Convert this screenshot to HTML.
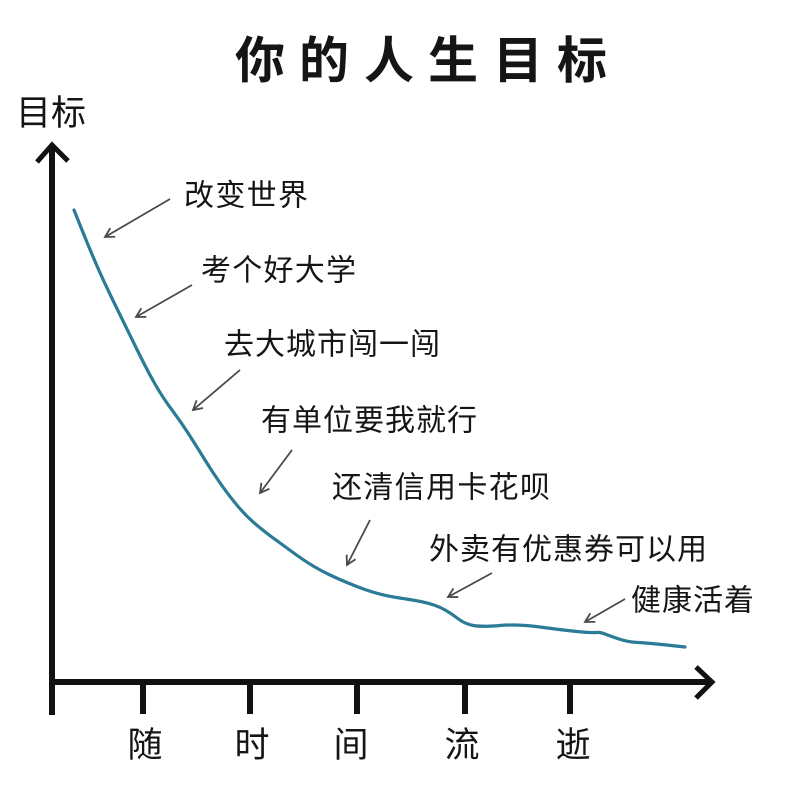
<!DOCTYPE html>
<html>
<head>
<meta charset="utf-8">
<style>
  html,body{margin:0;padding:0;background:#fff;}
  svg{display:block;}
  text{font-family:"Liberation Sans","Noto Sans CJK SC",sans-serif;fill:#151515;}
</style>
</head>
<body>
<svg width="795" height="785" viewBox="0 0 795 785" xmlns="http://www.w3.org/2000/svg">
  <defs>
    <marker id="ah" markerWidth="14" markerHeight="14" refX="10" refY="7" orient="auto" markerUnits="userSpaceOnUse">
      <path d="M1,2 L10,7 L1,12" fill="none" stroke="#4a4a4a" stroke-width="1.8"/>
    </marker>
  </defs>

  <!-- Title -->
  <g font-size="50" font-weight="bold" text-anchor="middle">
    <text x="260" y="78">你</text>
    <text x="324" y="78">的</text>
    <text x="389" y="78">人</text>
    <text x="453" y="78">生</text>
    <text x="518" y="78">目</text>
    <text x="582" y="78">标</text>
  </g>

  <!-- Y label -->
  <text x="16" y="125" font-size="35">目标</text>

  <!-- Axes -->
  <g stroke="#111" stroke-width="6" fill="none" stroke-linecap="butt">
    <line x1="52" y1="146" x2="52" y2="715"/>
    <line x1="49" y1="682" x2="709" y2="682"/>
    <polyline points="37,162 52,145 68,161" stroke-width="5" stroke-linejoin="miter"/>
    <polyline points="696,667 712,682 696,698" stroke-width="5" stroke-linejoin="miter"/>
    <line x1="143" y1="682" x2="143" y2="714"/>
    <line x1="250" y1="682" x2="250" y2="714"/>
    <line x1="357" y1="682" x2="357" y2="714"/>
    <line x1="465" y1="682" x2="465" y2="714"/>
    <line x1="570" y1="682" x2="570" y2="714"/>
  </g>

  <!-- X labels -->
  <g font-size="35" text-anchor="middle">
    <text x="145" y="757">随</text>
    <text x="252" y="757">时</text>
    <text x="351" y="757">间</text>
    <text x="462" y="757">流</text>
    <text x="573" y="757">逝</text>
  </g>

  <!-- Curve -->
  <path d="M74,210 L81,227.5 Q88,245 95.5,262.5 Q103,280 114,302.5 Q125,325 136,347.5 Q147,370 155,384 Q163,398 172,410 Q181,422 189,434.5 Q197,447 205,460 Q213,473 221.5,485 Q230,497 238.5,507 Q247,517 256,524.5 Q265,532 272.5,537.5 Q280,543 296.5,555 Q313,567 330,575 Q347,583 363.5,589 Q380,595 396.5,597.5 Q413,600 420.5,601.5 Q428,603 434,605 Q440,607 446,610.5 Q452,614 458.5,619 Q465,624 473.5,625.5 Q482,627 500,625.5 Q518,624 540,627 Q562,630 577,631.5 Q592,633 596,632.5 Q600,632 605,634 Q610,636 619,639 Q628,642 638,642.5 Q648,643 666.5,645 L685,647"
        fill="none" stroke="#2b7a96" stroke-width="3.2" stroke-linejoin="round" stroke-linecap="round"/>

  <!-- Annotation arrows -->
  <g stroke="#4a4a4a" stroke-width="1.8" fill="none">
    <line x1="170" y1="199" x2="105" y2="237" marker-end="url(#ah)"/>
    <line x1="192" y1="285" x2="136" y2="317" marker-end="url(#ah)"/>
    <line x1="240" y1="370" x2="193" y2="410" marker-end="url(#ah)"/>
    <line x1="292" y1="450" x2="260" y2="493" marker-end="url(#ah)"/>
    <line x1="370" y1="520" x2="347" y2="565" marker-end="url(#ah)"/>
    <line x1="492" y1="573" x2="448" y2="597" marker-end="url(#ah)"/>
    <line x1="625" y1="599" x2="585" y2="622" marker-end="url(#ah)"/>
  </g>

  <!-- Annotation labels -->
  <g font-size="30">
    <text x="184" y="205.5" textLength="124" lengthAdjust="spacing">改变世界</text>
    <text x="201" y="280.5" textLength="155" lengthAdjust="spacing">考个好大学</text>
    <text x="224" y="354.5" textLength="216" lengthAdjust="spacing">去大城市闯一闯</text>
    <text x="261" y="430.5" textLength="216" lengthAdjust="spacing">有单位要我就行</text>
    <text x="332" y="497.5" textLength="218" lengthAdjust="spacing">还清信用卡花呗</text>
    <text x="429" y="559.5" textLength="278" lengthAdjust="spacing">外卖有优惠券可以用</text>
    <text x="631" y="610.5" textLength="123" lengthAdjust="spacing">健康活着</text>
  </g>
</svg>
</body>
</html>
